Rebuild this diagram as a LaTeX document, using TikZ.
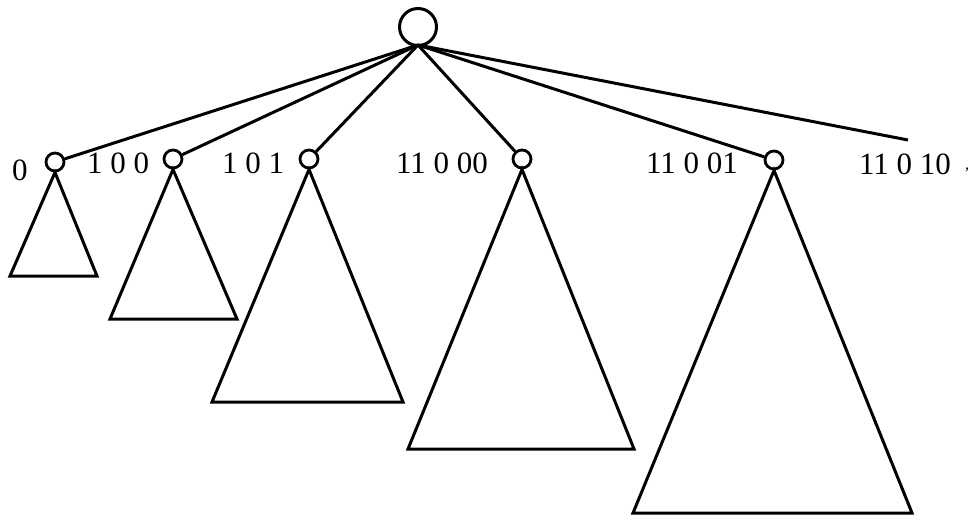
\documentclass[tikz,border=0pt]{standalone}
\usepackage{fontspec}
\setmainfont{Liberation Serif}
\begin{document}
\begin{tikzpicture}[x=1pt,y=-1pt,line width=3pt,line join=miter,
  root/.style={circle,draw,minimum size=37pt,inner sep=0pt,line width=3pt},
  kid/.style={circle,draw,minimum size=18pt,inner sep=0pt,line width=2.8pt},
  lab/.style={font=\fontsize{31}{32}\selectfont,inner sep=0pt,anchor=center},
  tri/.style={draw,line width=3pt}]
\useasboundingbox (0,0) rectangle (976,519);
\node[root] (r) at (418,27) {};
\node[kid] (c1) at (55,162) {};
\node[kid] (c2) at (173,159) {};
\node[kid] (c3) at (309,159) {};
\node[kid] (c4) at (522,159) {};
\node[kid] (c5) at (774,160) {};
\coordinate (e6) at (908,140);
\coordinate (hub) at (418,45);
\foreach \c in {c1,c2,c3,c4,c5} \draw (hub) -- (\c);
\draw (hub) -- (e6);
% subtrees
\coordinate (b1l) at (10,276); \coordinate (b1r) at (97,276);
\coordinate (b2l) at (110,319); \coordinate (b2r) at (237,319);
\coordinate (b3l) at (212,402); \coordinate (b3r) at (403,402);
\coordinate (b4l) at (408,449); \coordinate (b4r) at (634,449);
\coordinate (b5l) at (633,513); \coordinate (b5r) at (912,513);
\draw[tri] (c1.south) -- (b1l) -- (b1r) -- cycle;
\draw[tri] (c2.south) -- (b2l) -- (b2r) -- cycle;
\draw[tri] (c3.south) -- (b3l) -- (b3r) -- cycle;
\draw[tri] (c4.south) -- (b4l) -- (b4r) -- cycle;
\draw[tri] (c5.south) -- (b5l) -- (b5r) -- cycle;
% labels
\node[lab] (l1) at (20,170) {0};
\node[lab] (l2) at (118,163) {1 0 0};
\node[lab] (l3) at (253,163) {1 0 1};
\node[lab] (l4) at (442,163) {11 0 00};
\node[lab] (l5) at (692,163) {11 0 01};
\node[lab] (l6) at (905,164) {11 0 10};
\node[lab,font=\fontsize{16}{17}\selectfont] (l7) at (967,170) {,};
\end{tikzpicture}
\end{document}
